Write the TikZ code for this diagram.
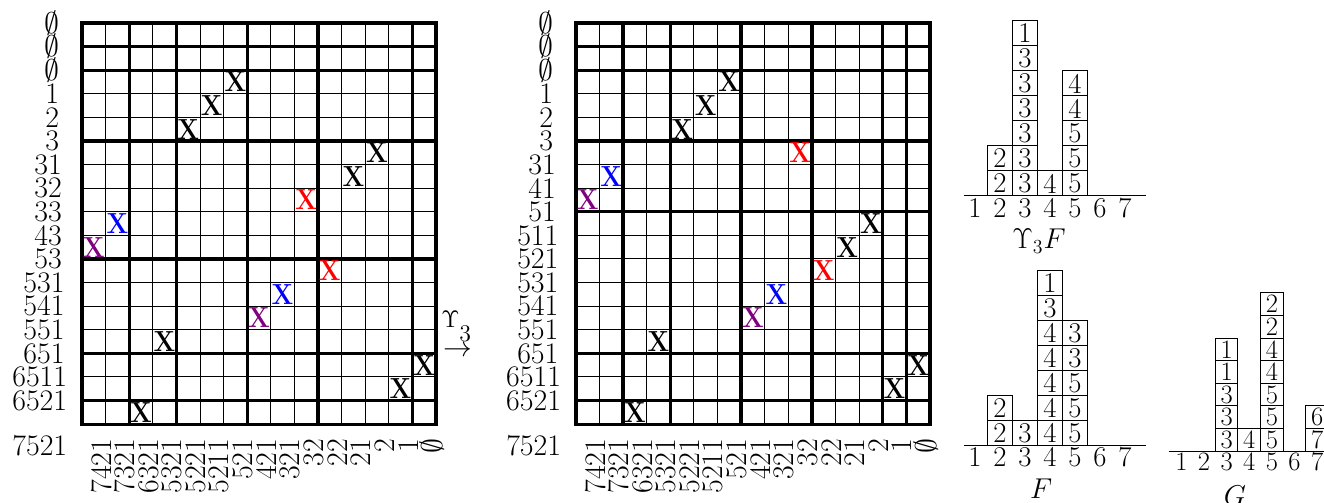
\RequirePackage{fix-cm}
\documentclass[tikz,border=0pt]{standalone}
\usepackage{amsmath}
\usepackage{tikz}
\usetikzlibrary{positioning}
\definecolor{x-red}{RGB}{255,0,0}
\definecolor{x-blue}{RGB}{0,0,255}
\definecolor{x-purple}{RGB}{128,0,128}

\begin{document}
\begin{tikzpicture}[
    x=0.5cm, y=-0.5cm,
    thinline/.style={line width=0.6pt},
    heavy/.style={line width=2pt},
    lab/.style={font=\fontsize{18}{18}\selectfont, inner sep=0pt},
    collab/.style={lab, rotate=90, anchor=east},
    xmark/.style={font=\fontsize{17.5}{17.5}\selectfont\bfseries, inner sep=0pt, xscale=0.88},
    tabbox/.style={draw, line width=0.6pt, minimum size=0.53cm, inner sep=0pt, outer sep=0pt, font=\LARGE},
    axnum/.style={font=\LARGE, inner sep=0pt},
    captext/.style={font=\LARGE, inner sep=0pt}
]
    \useasboundingbox (-3.475,-0.975) rectangle (52.63,20.34);

    % Left grid
    \begin{scope}
        \foreach \c in {0,...,15} \draw[thinline] (\c,0) -- (\c,17);
        \foreach \r in {0,...,17} \draw[thinline] (0,\r) -- (15,\r);
        \foreach \c in {2,4,7,10,14} \draw[heavy] (\c,0) -- (\c,17);
        \foreach \r in {1,2,5,10,14,16} \draw[heavy] (0,\r) -- (15,\r);
        \draw[heavy] (0,0) rectangle (15,17);
        % row labels
        \foreach \lab/\n [count=\i from 0] in {$\emptyset$/1,$\emptyset$/1,$\emptyset$/1,1/1,2/1,3/1,31/2,32/2,33/2,43/2,53/2,531/3,541/3,551/3,651/3,6511/4,6521/4}
            \node[lab] (ra\i) at ({-1.08-0.178*\n},\i) {\lab};
        \node[lab] (ra18) at (-1.79,17.9) {7521};
        % column labels
        \foreach \lab [count=\k from 0] in {7421,7321,6321,5321,5221,5211,521,421,321,32,22,21,2,1,$\emptyset$}
            \node[collab] (ca\k) at (\k+0.82,17.6) {\lab};
        % crosses
        \foreach \r/\c/\col in {2/6/black,3/5/black,4/4/black,5/12/black,6/11/black,7/9/x-red,8/1/x-blue,9/0/x-purple,10/10/x-red,11/8/x-blue,12/7/x-purple,13/3/black,14/14/black,15/13/black,16/2/black}
            \node[xmark, text=\col] (xa\r) at (\c+0.5,\r+0.5) {X};
    \end{scope}

    % the map between the grids
    \node[font=\Large, inner sep=0pt, anchor=base west] (ups) at (15.21,12.92) {$\Upsilon$\raisebox{-0.55em}{3}};
    \node[font=\LARGE, inner sep=0pt, anchor=west] (arr) at (15.30,13.9) {$\rightarrow$};

    % Right grid
    \begin{scope}[shift={(20.93,0)}]
        \foreach \c in {0,...,15} \draw[thinline] (\c,0) -- (\c,17);
        \foreach \r in {0,...,17} \draw[thinline] (0,\r) -- (15,\r);
        \foreach \c in {2,4,7,10,13,14} \draw[heavy] (\c,0) -- (\c,17);
        \foreach \r in {1,2,5,8,14,16} \draw[heavy] (0,\r) -- (15,\r);
        \draw[heavy] (0,0) rectangle (15,17);
        % row labels
        \foreach \lab/\n [count=\i from 0] in {$\emptyset$/1,$\emptyset$/1,$\emptyset$/1,1/1,2/1,3/1,31/2,41/2,51/2,511/3,521/3,531/3,541/3,551/3,651/3,6511/4,6521/4}
            \node[lab] (rb\i) at ({-1.08-0.178*\n},\i) {\lab};
        \node[lab] (rb18) at (-1.79,17.9) {7521};
        % column labels
        \foreach \lab [count=\k from 0] in {7421,7321,6321,5321,5221,5211,521,421,321,32,22,21,2,1,$\emptyset$}
            \node[collab] (cb\k) at (\k+0.82,17.6) {\lab};
        % crosses
        \foreach \r/\c/\col in {2/6/black,3/5/black,4/4/black,5/9/x-red,6/1/x-blue,7/0/x-purple,8/12/black,9/11/black,10/10/x-red,11/8/x-blue,12/7/x-purple,13/3/black,14/14/black,15/13/black,16/2/black}
            \node[xmark, text=\col] (xb\r) at (\c+0.5,\r+0.5) {X};
    \end{scope}

    % Upsilon_3 F
    \begin{scope}[shift={(37.84,7.33)}, x=0.53cm, y=0.53cm]
        \draw[thinline] (-0.44,0) -- (6.85,0);
        \foreach \k in {1,...,7} \node[axnum] (ua\k) at (\k-1,-0.48) {\k};
        \foreach \k/\ents in {2/{2,2},3/{3,3,3,3,3,3,1},4/{4},5/{5,5,5,4,4}}
            \foreach \e [count=\j from 0] in \ents
                \node[tabbox] (ub\k-\j) at (\k-1,\j+0.5) {\e};
    \end{scope}
    \node[captext] (capu) at (40.55,9.24) {$\Upsilon_3F$};

    % F
    \begin{scope}[shift={(37.84,17.92)}, x=0.53cm, y=0.53cm]
        \draw[thinline] (-0.44,0) -- (6.85,0);
        \foreach \k in {1,...,7} \node[axnum] (fa\k) at (\k-1,-0.44) {\k};
        \foreach \k/\ents in {2/{2,2},3/{3},4/{4,4,4,4,4,3,1},5/{5,5,5,3,3}}
            \foreach \e [count=\j from 0] in \ents
                \node[tabbox] (fb\k-\j) at (\k-1,\j+0.5) {\e};
    \end{scope}
    \node[captext] (capf) at (40.64,19.72) {$F$};

    % G
    \begin{scope}[shift={(46.59,18.14)}, x=0.479cm, y=0.479cm]
        \draw[thinline] (-0.56,0) -- (6.8,0);
        \foreach \k in {1,...,7} \node[axnum, font=\fontsize{16}{16}\selectfont] (ga\k) at (\k-1,-0.46) {\k};
        \foreach \k/\ents in {3/{3,3,3,1,1},4/{4},5/{5,5,5,4,4,2,2},7/{7,6}}
            \foreach \e [count=\j from 0] in \ents
                \node[tabbox, minimum size=0.479cm, font=\fontsize{16}{16}\selectfont] (gb\k-\j) at (\k-1,\j+0.5) {\e};
    \end{scope}
    \node[captext] (capg) at (48.86,20.04) {$G$};
\end{tikzpicture}
\end{document}
